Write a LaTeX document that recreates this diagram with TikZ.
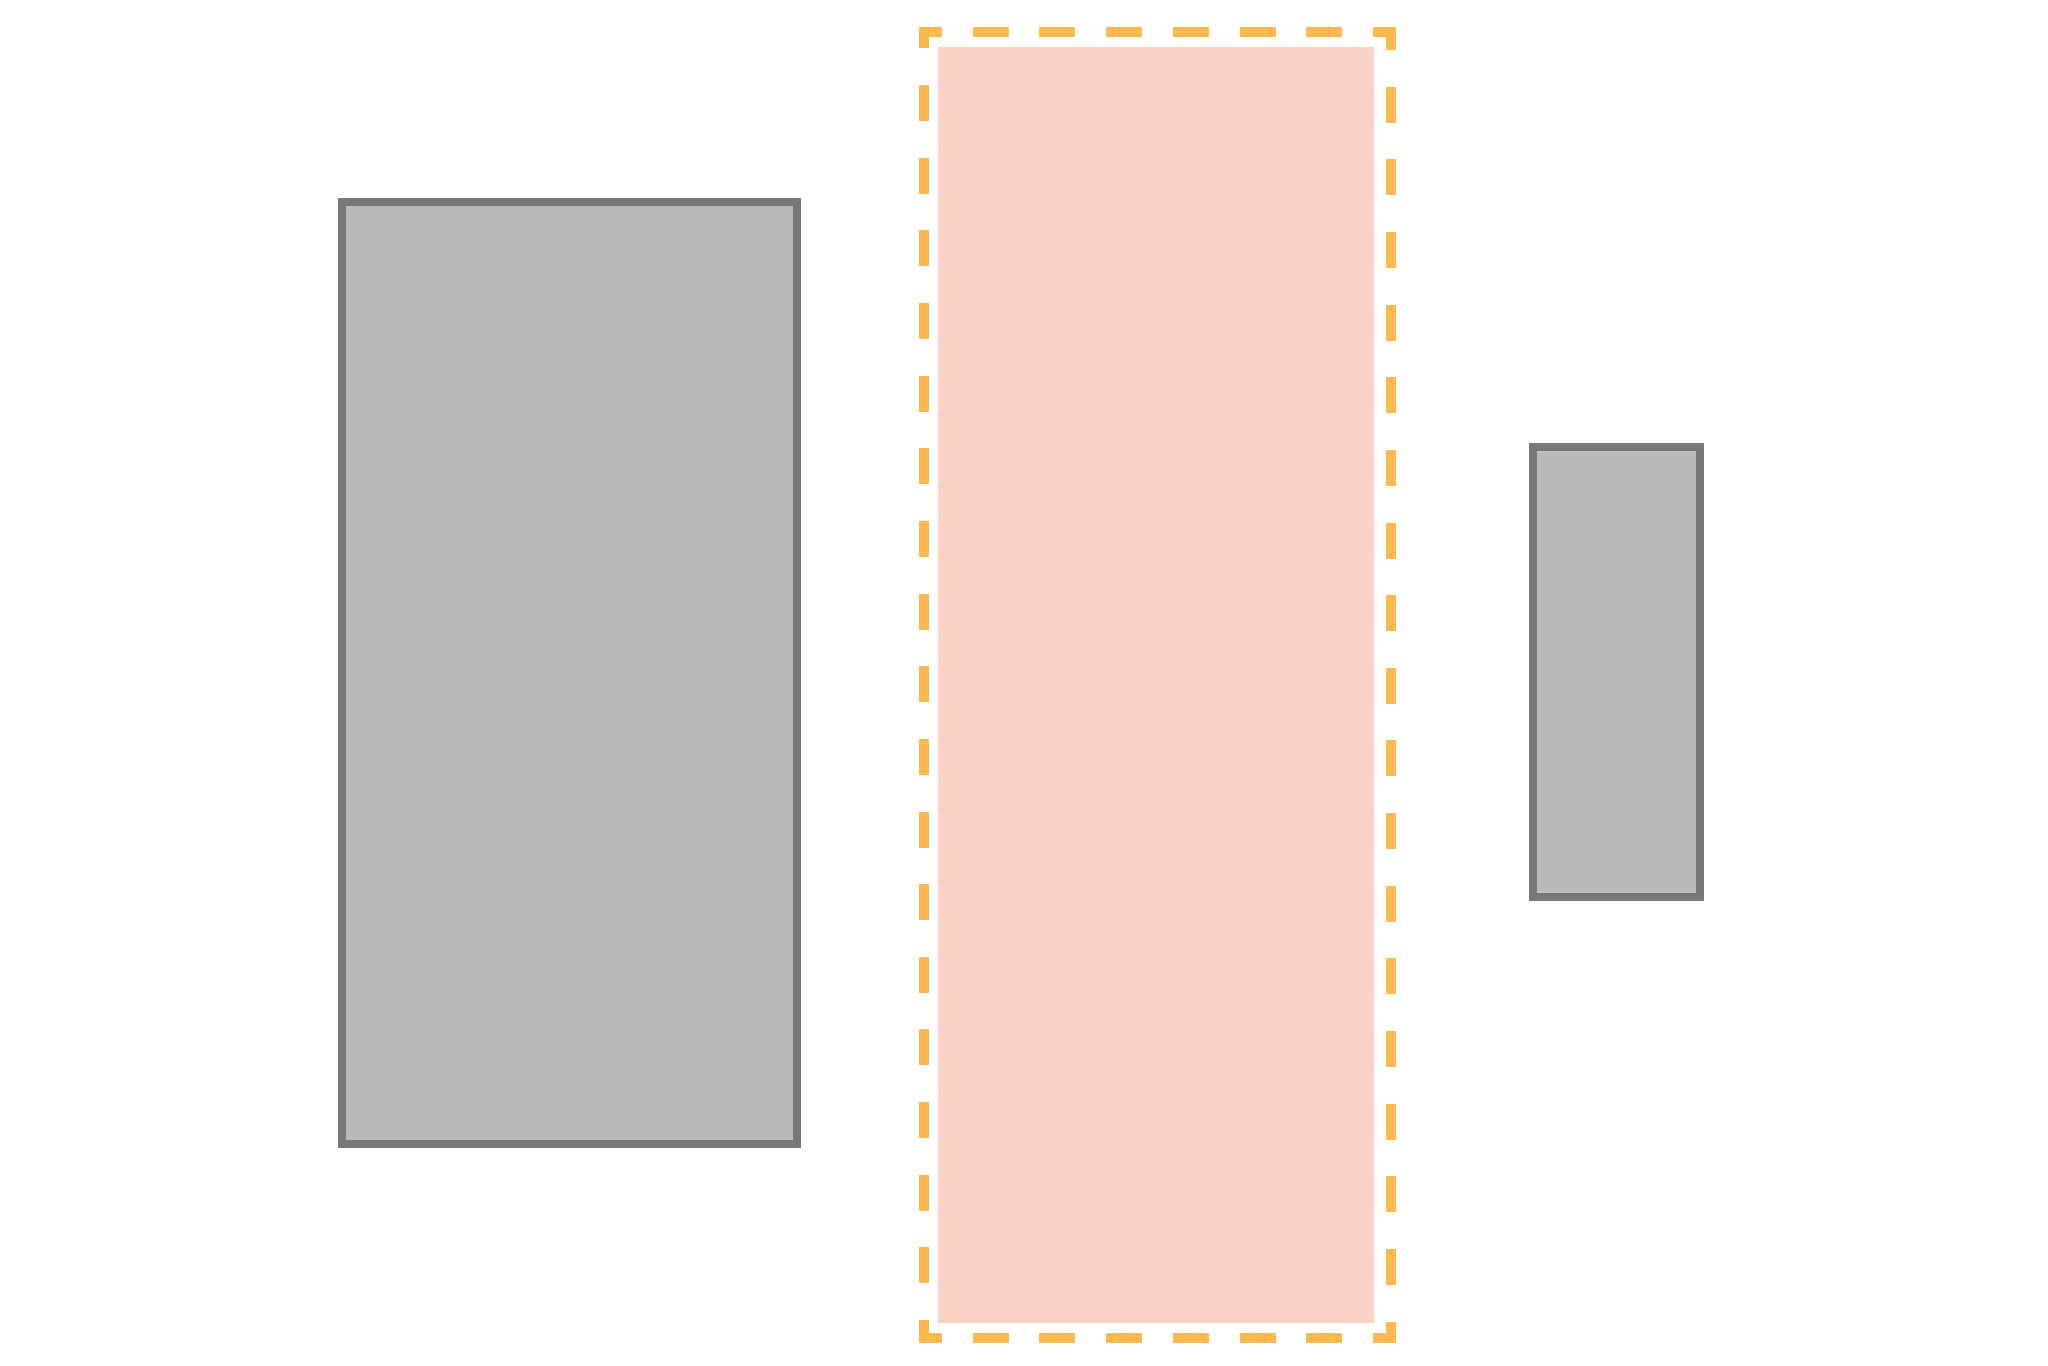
\documentclass[tikz,border=0pt]{standalone}
\definecolor{boxgray}{HTML}{BBBAB8}
\definecolor{edgegray}{HTML}{777777}
\definecolor{blockpink}{HTML}{FAD0C7}
\definecolor{frameorange}{HTML}{FBB94F}
\begin{document}
\begin{tikzpicture}[x=0.01cm, y=-0.01cm,
	block/.style = {line width = 0.08cm, color = edgegray, fill = boxgray},
	frame/.style = {line width = 0.093cm, color = frameorange, line cap = rect, dash phase = 0.1335cm},
	hside/.style = {frame, dash pattern = on 0.267cm off 0.40cm},
	vside/.style = {frame, dash pattern = on 0.267cm off 0.459cm}]
\useasboundingbox (0,0) rectangle (2048,1365);
\draw[block] (342,202) rectangle (797,1144);
\fill[color = blockpink] (938,47) rectangle (1374,1323);
\coordinate (tl) at (924,32);
\coordinate (tr) at (1391,32);
\coordinate (br) at (1391,1338);
\coordinate (bl) at (924,1338);
\draw[hside] (tl) -- (tr);
\draw[vside] (tr) -- (br);
\draw[hside] (br) -- (bl);
\draw[vside] (bl) -- (tl);
\draw[block] (1533,447) rectangle (1700,897);
\end{tikzpicture}
\end{document}
